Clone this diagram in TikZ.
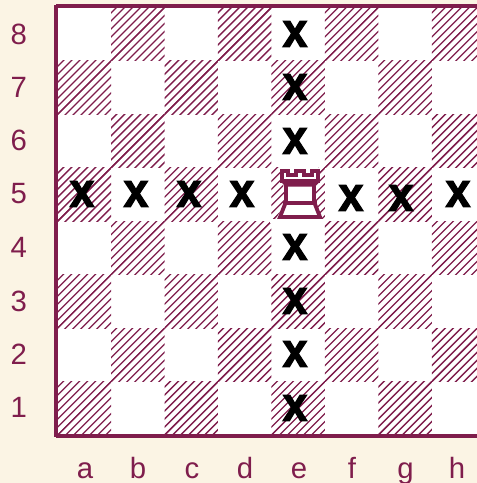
\documentclass[tikz,border=0pt]{standalone}
\usepackage{fontspec}
\setmainfont{Liberation Sans}
\definecolor{bgc}{HTML}{FBF4E4}
\definecolor{mar}{HTML}{7F1D4C}
\newfontfamily\xfont[FakeBold=2.5,FakeStretch=0.92]{Liberation Sans Bold}
\tikzset{
  lab/.style={text=mar,font=\fontsize{22pt}{24pt}\selectfont,inner sep=0pt},
  xmark/.style={text=black,font=\fontsize{36pt}{36pt}\xfont,inner sep=0pt},
  hatchline/.style={mar,line width=1pt},
}
\begin{document}
\begin{tikzpicture}[x=0.75pt,y=-0.75pt]
\fill[bgc] (0,0) rectangle (477,483);
\useasboundingbox (0,0) rectangle (477,483);
\begin{scope}
\clip (0,0) rectangle (477,483);
\fill[white] (57.6,7.5) rectangle (485,435);
\foreach \c in {0,...,7}{
  \foreach \r in {0,...,7}{
    \pgfmathparse{int(mod(\c+\r,2))}
    \ifnum\pgfmathresult=1
      \begin{scope}
      \clip ({57.6+53.45*\c},{7.5+53.45*\r}) rectangle ++(53.45,53.45);
      \foreach \k in {0,8,...,112}{
        \draw[hatchline] ({57.6+53.45*\c+\k-3},{7.5+53.45*(\r+1)+3}) -- ++(60,-60);
        \draw[hatchline] ({57.6+53.45*\c-\k-3},{7.5+53.45*(\r+1)+3}) -- ++(60,-60);
      }
      \end{scope}
    \fi
  }
}
\fill[white] (281,167) -- (318,167) -- (315,190) -- (315,205) -- (321,219) -- (326,219) -- (326,223) -- (270,223) -- (270,219) -- (276,219) -- (284,205) -- (284,190) -- cycle;
\draw[mar,line width=3pt] (56,6) -- (477,6);
\draw[mar,line width=3pt] (56,4.5) -- (56,436.5);
\draw[mar,line width=3pt] (56,435.5) -- (477,435.5);
\end{scope}
\foreach \t/\y in {8/34,7/87,6/140,5/194,4/247,3/301,2/354,1/407}{
  \node[lab] (r\t) at (18.7,\y) {\t};
}
\foreach \t/\x in {a/85,b/138,c/192,d/245,e/299,f/352,g/405.5,h/457}{
  \node[lab,anchor=base] (c\t) at (\x,478) {\t};
}
\foreach \n/\x/\y in {e8/295/34,e7/295/87,e6/295/141,a5/82/194,b5/136/194,c5/189/194,d5/242/194,f5/351/198,g5/401/198,h5/458/194,e4/295/247,e3/295/301,e2/295/354,e1/295/408}{
  \node[xmark] (x\n) at (\x,\y) {x};
}
\begin{scope}[shift={(240,150)},x=0.25pt,y=-0.25pt,mar,line width=2.9pt,line join=miter]
\draw (126,64) -- (145,64) -- (145,76) -- (168,76) -- (168,64) -- (192,64) -- (192,76) -- (215,76) -- (215,64) -- (234,64) -- (234,92) -- (126,92) -- cycle;
\draw (128,92) -- (139,104) -- (221,104) -- (232,92);
\draw (139,104) -- (139,156) (221,104) -- (221,156);
\draw (130,158) -- (230,158);
\draw (136,160) -- (120,201) -- (240,201) -- (224,160);
\end{scope}
\end{tikzpicture}
\end{document}
